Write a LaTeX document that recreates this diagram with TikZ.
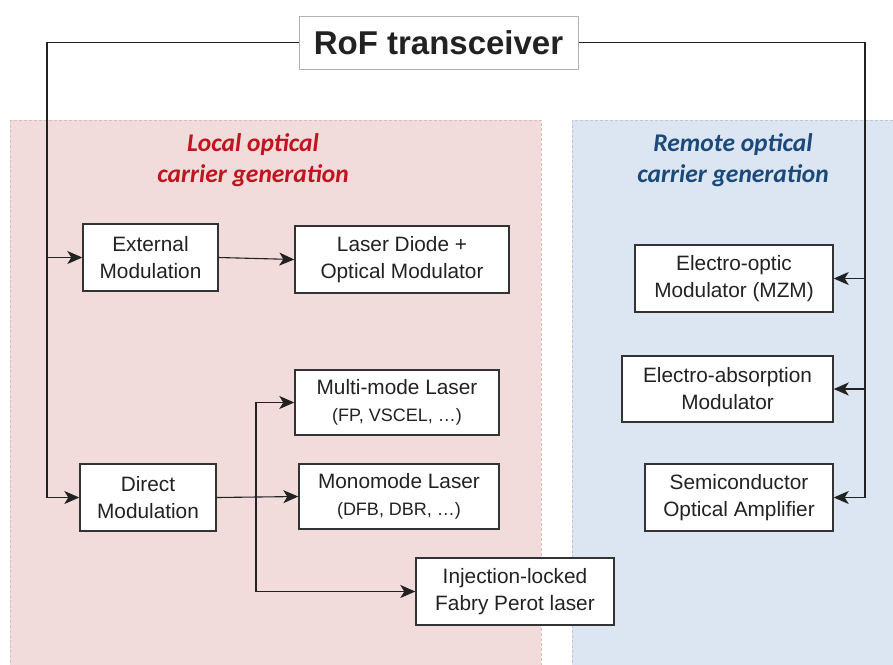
\documentclass[tikz,border=0pt]{standalone}
\usepackage{fontspec}
\setmainfont{Liberation Sans}
\newfontfamily\calfont{Carlito}
\usetikzlibrary{arrows.meta}
\definecolor{pinkbg}{HTML}{F2DCDB}
\definecolor{bluebg}{HTML}{DCE6F2}
\definecolor{redtxt}{HTML}{C0141E}
\definecolor{bluetxt}{HTML}{1B4A7A}
\definecolor{boxline}{HTML}{333333}
\definecolor{txt}{HTML}{222222}
\tikzset{
  blk/.style={draw=boxline, line width=1.4pt, fill=white, text=txt, align=center, inner sep=0pt, font=\fontsize{20.8}{27}\selectfont},
  panel/.style={densely dashed, line width=0.6pt},
  conn/.style={draw=txt, line width=1.1pt},
  arr/.style={conn, -{Stealth[length=15pt,width=13pt,inset=4pt]}},
  ptitle/.style={font=\calfont\bfseries\itshape\fontsize{25.5}{31}\selectfont, align=center}
}
\newcommand{\subtxt}[1]{{\fontsize{18}{27}\selectfont #1}}
\begin{document}
\begin{tikzpicture}[x=1pt,y=-1pt]
\useasboundingbox (0,0) rectangle (893,664);
% panels
\path[panel, fill=pinkbg, draw=pinkbg!70!gray] (10,120) rectangle (541,670);
\path[panel, fill=bluebg, draw=bluebg!70!gray] (572,120) rectangle (900,670);
\node[ptitle, text=redtxt] (ltitle) at (253,160) {Local optical\\carrier generation};
\node[ptitle, text=bluetxt] (rtitle) at (733,160) {Remote optical\\carrier generation};
% title
\node[draw=gray!60, line width=1pt, fill=white, minimum width=279pt, minimum height=53pt, inner sep=0pt, font=\bfseries\fontsize{33}{38}\selectfont, text=txt] (title) at (438.5,42.5) {RoF transceiver};
% left boxes
\node[blk, minimum width=135pt, minimum height=67pt] (ext) at (150.5,257.5) {External\\Modulation};
\node[blk, minimum width=214pt, minimum height=67pt] (ld) at (402,259.5) {Laser Diode +\\Optical Modulator};
\node[blk, minimum width=204pt, minimum height=65pt] (multi) at (397,402.5) {Multi-mode Laser\\\subtxt{(FP, VSCEL, \ldots)}};
\node[blk, minimum width=200pt, minimum height=65pt] (mono) at (399,496.5) {Monomode Laser\\\subtxt{(DFB, DBR, \ldots)}};
\node[blk, minimum width=136pt, minimum height=67pt] (direct) at (148,497.5) {Direct\\Modulation};
\node[blk, minimum width=198pt, minimum height=67pt] (inj) at (515,591.5) {Injection-locked\\Fabry Perot laser};
% right boxes
\node[blk, minimum width=198pt, minimum height=67pt] (eom) at (734,278.5) {Electro-optic\\Modulator (MZM)};
\node[blk, minimum width=211pt, minimum height=66pt] (eam) at (727.5,389) {Electro-absorption\\Modulator};
\node[blk, minimum width=188pt, minimum height=67pt] (soa) at (739,497.5) {Semiconductor\\Optical Amplifier};
% connectors
\coordinate (lc) at (47,497.5);
\coordinate (rc) at (865,497.5);
\coordinate (br) at (256,497.5);
\draw[arr] (title.west) -| (lc) -- (direct.west);
\draw[arr] (ext.west -| lc) -- (ext.west);
\draw[arr] (ext.east) -- (ld.west);
\draw[arr] (direct.east) -- (mono.west);
\draw[arr] (br) |- (multi.west);
\draw[arr] (br) |- (inj.west);
\draw[conn] (title.east) -| (rc);
\draw[arr] (rc) -- (soa.east);
\draw[arr] (eom.east -| rc) -- (eom.east);
\draw[arr] (eam.east -| rc) -- (eam.east);
\end{tikzpicture}
\end{document}
